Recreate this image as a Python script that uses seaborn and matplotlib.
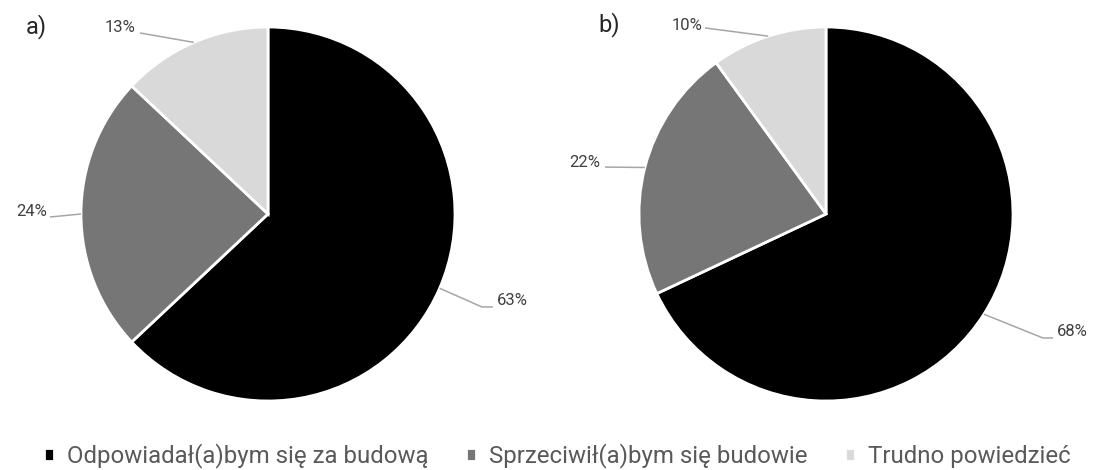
import numpy as np
import matplotlib
matplotlib.use("Agg")
import matplotlib.pyplot as plt
import seaborn as sns

sns.set_theme(style="white")
plt.rcParams["font.family"] = ["Roboto", "DejaVu Sans"]

categories = ["Odpowiadał(a)bym się za budową",
              "Sprzeciwił(a)bym się budowie",
              "Trudno powiedzieć"]
values_a = [63, 24, 13]
values_b = [68, 22, 10]
panel_titles = ["a)", "b)"]
colors = ["#000000", "#767676", "#d9d9d9"]

W, H = 1095, 470
R = 187
fig = plt.figure(figsize=(W / 100, H / 100), dpi=100)

def px_axes(cx, cy, r):
    return fig.add_axes([(cx - r) / W, (H - cy - r) / H, 2 * r / W, 2 * r / H])

# per slice: text x, text y, elbow (x, y), line end (x, y), alignment — in pie radii
label_layout_a = [(1.225, -0.46, (1.144, -0.497), (1.203, -0.497), "left"),
                  (-1.182, 0.011, (-1.166, -0.016), (-1.166, -0.016), "right"),
                  (-0.711, 0.995, (-0.684, 0.968), (-0.684, 0.968), "right")]
label_layout_b = [(1.235, -0.631, (1.16, -0.663), (1.214, -0.663), "left"),
                  (-1.209, 0.278, (-1.182, 0.251), (-1.182, 0.251), "right"),
                  (-0.663, 1.01, (-0.647, 0.995), (-0.647, 0.995), "right")]

def draw_pie(ax, values, layout):
    wedges, _ = ax.pie(values, colors=colors, startangle=90, counterclock=False,
                       radius=1.0, wedgeprops=dict(edgecolor="white", linewidth=2))
    ax.set_xlim(-1, 1)
    ax.set_ylim(-1, 1)
    ax.set_aspect("equal")
    ax.axis("off")
    total = sum(values)
    cum = 0
    for v, (tx, ty, elbow, end, ha) in zip(values, layout):
        mid = 90 - 360 * (cum + v / 2) / total
        cum += v
        px, py = np.cos(np.radians(mid)), np.sin(np.radians(mid))
        ax.plot([px, elbow[0], end[0]], [py, elbow[1], end[1]], color="#a6a6a6",
                lw=1.1, clip_on=False, solid_capstyle="butt")
        ax.text(tx, ty, f"{v}%", ha=ha, va="center", fontsize=12,
                color="#404040", clip_on=False)
    return wedges

ax_a = px_axes(268, 214, R)
ax_b = px_axes(826, 214, R)
wedges = draw_pie(ax_a, values_a, label_layout_a)
draw_pie(ax_b, values_b, label_layout_b)

fig.text(26 / W, 1 - 27 / H, panel_titles[0], fontsize=17, va="center", ha="left",
         color="#262626")
fig.text(598 / W, 1 - 25 / H, panel_titles[1], fontsize=17, va="center", ha="left",
         color="#262626")

fig.legend(wedges, categories, loc="center left", bbox_to_anchor=(44 / W, 1 - 456 / H),
           ncol=3, frameon=False, handlelength=0.42, handleheight=0.42,
           handletextpad=0.55, columnspacing=1.55, borderpad=0, borderaxespad=0,
           labelcolor="#595959", prop={"size": 17.3})

fig.savefig("out.png", dpi=100, facecolor="white")
